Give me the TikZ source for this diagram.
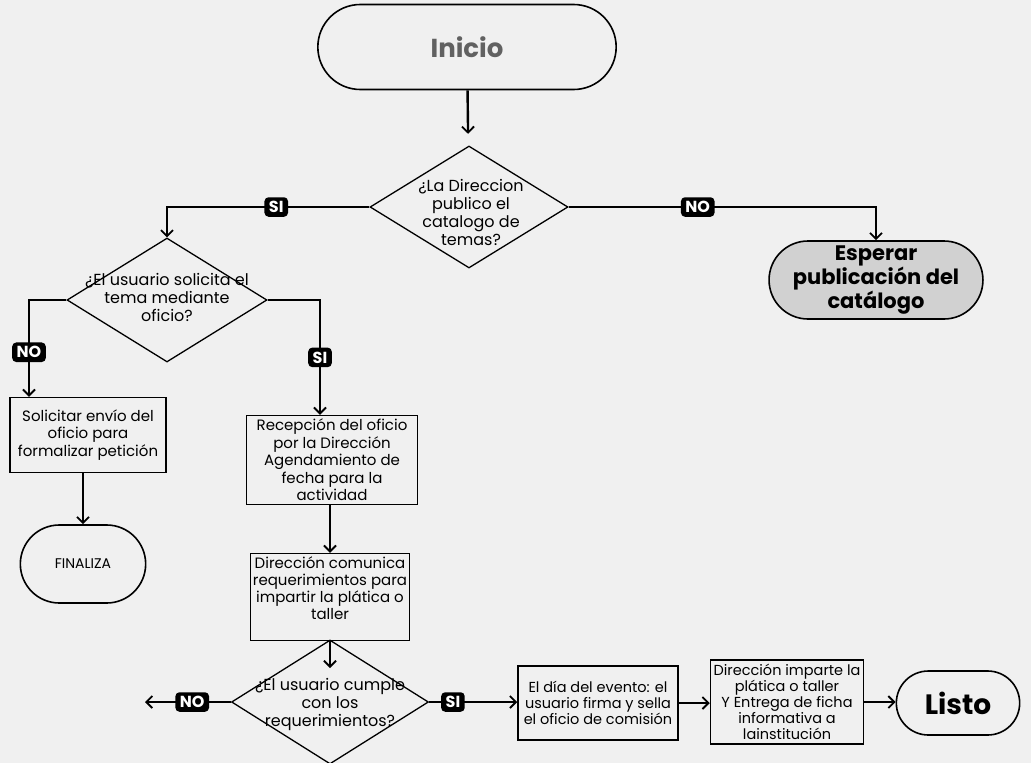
\documentclass[tikz,border=0pt]{standalone}
\usepackage{fontspec}
\setmainfont{Poppins}
\usetikzlibrary{arrows.meta,shapes.geometric,shapes.misc}
\begin{document}
\begin{tikzpicture}[x=1pt,y=-1pt,
 arr/.style={line width=2.4pt, -{Straight Barb[length=6pt,width=12pt,line width=1.8pt]}},
 stad/.style={rounded rectangle, draw, line width=1.6pt, align=center},
 box/.style={draw, line width=1.5pt, align=center, font=\fontsize{15}{17.5}\selectfont, inner sep=1pt},
 dia/.style={diamond, draw, line width=1.3pt, inner sep=0pt},
 lab/.style={fill=black, text=white, rounded corners=4pt, font=\bfseries\fontsize{16}{16}\selectfont, inner xsep=4.5pt, inner ysep=4pt},
 txt/.style={align=center, font=\fontsize{16}{18}\selectfont}]
\fill[black!6] (0,0) rectangle (1031,763);
\useasboundingbox (0,0) rectangle (1031,763);

% nodes
\node[stad, minimum width=305pt, minimum height=85pt, font=\bfseries\fontsize{26}{28}\selectfont, text=black!62] (ini) at (467,47) {Inicio};
\node[dia, minimum width=198pt, minimum height=122pt] (d1) at (469,207) {};
\node[txt] (d1t) at (471,212) {¿La Direccion\\publico el\\catalogo de\\temas?};
\node[stad, fill=black!18, minimum width=200pt, minimum height=78pt, font=\bfseries\fontsize{21}{21.5}\selectfont] (esp) at (876,280) {Esperar\\publicación del\\catálogo};
\node[dia, minimum width=200pt, minimum height=124pt] (d2) at (167,300) {};
\node[txt] (d2t) at (167,297) {¿El usuario solicita el\\tema mediante\\oficio?};
\node[box, minimum width=156pt, minimum height=75pt] (sol) at (88,435) {Solicitar envío del\\oficio para\\formalizar petición};
\node[stad, minimum width=132pt, minimum height=78pt, font=\fontsize{14}{16}\selectfont] (fin) at (83,564) {FINALIZA};
\node[box, minimum width=171pt, minimum height=89pt] (rec) at (332,460) {Recepción del oficio\\por la Dirección\\Agendamiento de\\fecha para la\\actividad};
\node[box, minimum width=159pt, minimum height=87pt, font=\fontsize{15}{17}\selectfont] (dc) at (330,597) {Dirección comunica\\requerimientos para\\impartir la plática o\\taller\\\mbox{}};
\node[dia, minimum width=197pt, minimum height=124pt] (d3) at (330,702) {};
\node[txt] (d3t) at (330,704) {¿El usuario cumple\\con los\\requerimientos?};
\node[box, minimum width=160pt, minimum height=74pt, font=\fontsize{14.5}{16}\selectfont] (b4) at (598,703) {El día del evento: el\\usuario firma y sella\\el oficio de comisión};
\node[box, minimum width=153pt, minimum height=84pt, font=\fontsize{14.5}{16}\selectfont] (b5) at (787,702) {Dirección imparte la\\plática o taller\\Y Entrega de ficha\\informativa a\\lainstitución};
\node[stad, minimum width=130pt, minimum height=64pt, font=\bfseries\fontsize{28}{30}\selectfont] (listo) at (958,703) {Listo};

\coordinate (d3in) at (330,668);
\coordinate (noend) at (145,702);

% connectors
\draw[arr, shorten >=12pt] (ini) -- (d1);
\draw[arr] (d1.west) -| node[lab,pos=0.23]{SI} (d2.north);
\draw[arr] (d1.east) -| node[lab,pos=0.21]{NO} (esp.north);
\draw[arr] (d2.west) -| node[lab,pos=0.77]{NO} ([xshift=-59pt]sol.north);
\draw[arr] (d2.east) -| node[lab,pos=0.75]{SI} ([xshift=-12pt]rec.north);
\draw[arr] (sol.south -| fin.north) -- (fin.north);
\draw[arr] (rec.south -| dc.north) -- (dc.north);
\draw[arr] (dc.south) -- (d3in);
\draw[arr] (d3.west) -- node[lab,pos=0.45]{NO} (noend);
\draw[arr] (d3.east) -- node[lab,pos=0.27]{SI} (d3.east -| b4.west);
\draw[arr] (b4.east) -- (b4.east -| b5.west);
\draw[arr] (b5.east) -- (b5.east -| listo.west);
\end{tikzpicture}
\end{document}
